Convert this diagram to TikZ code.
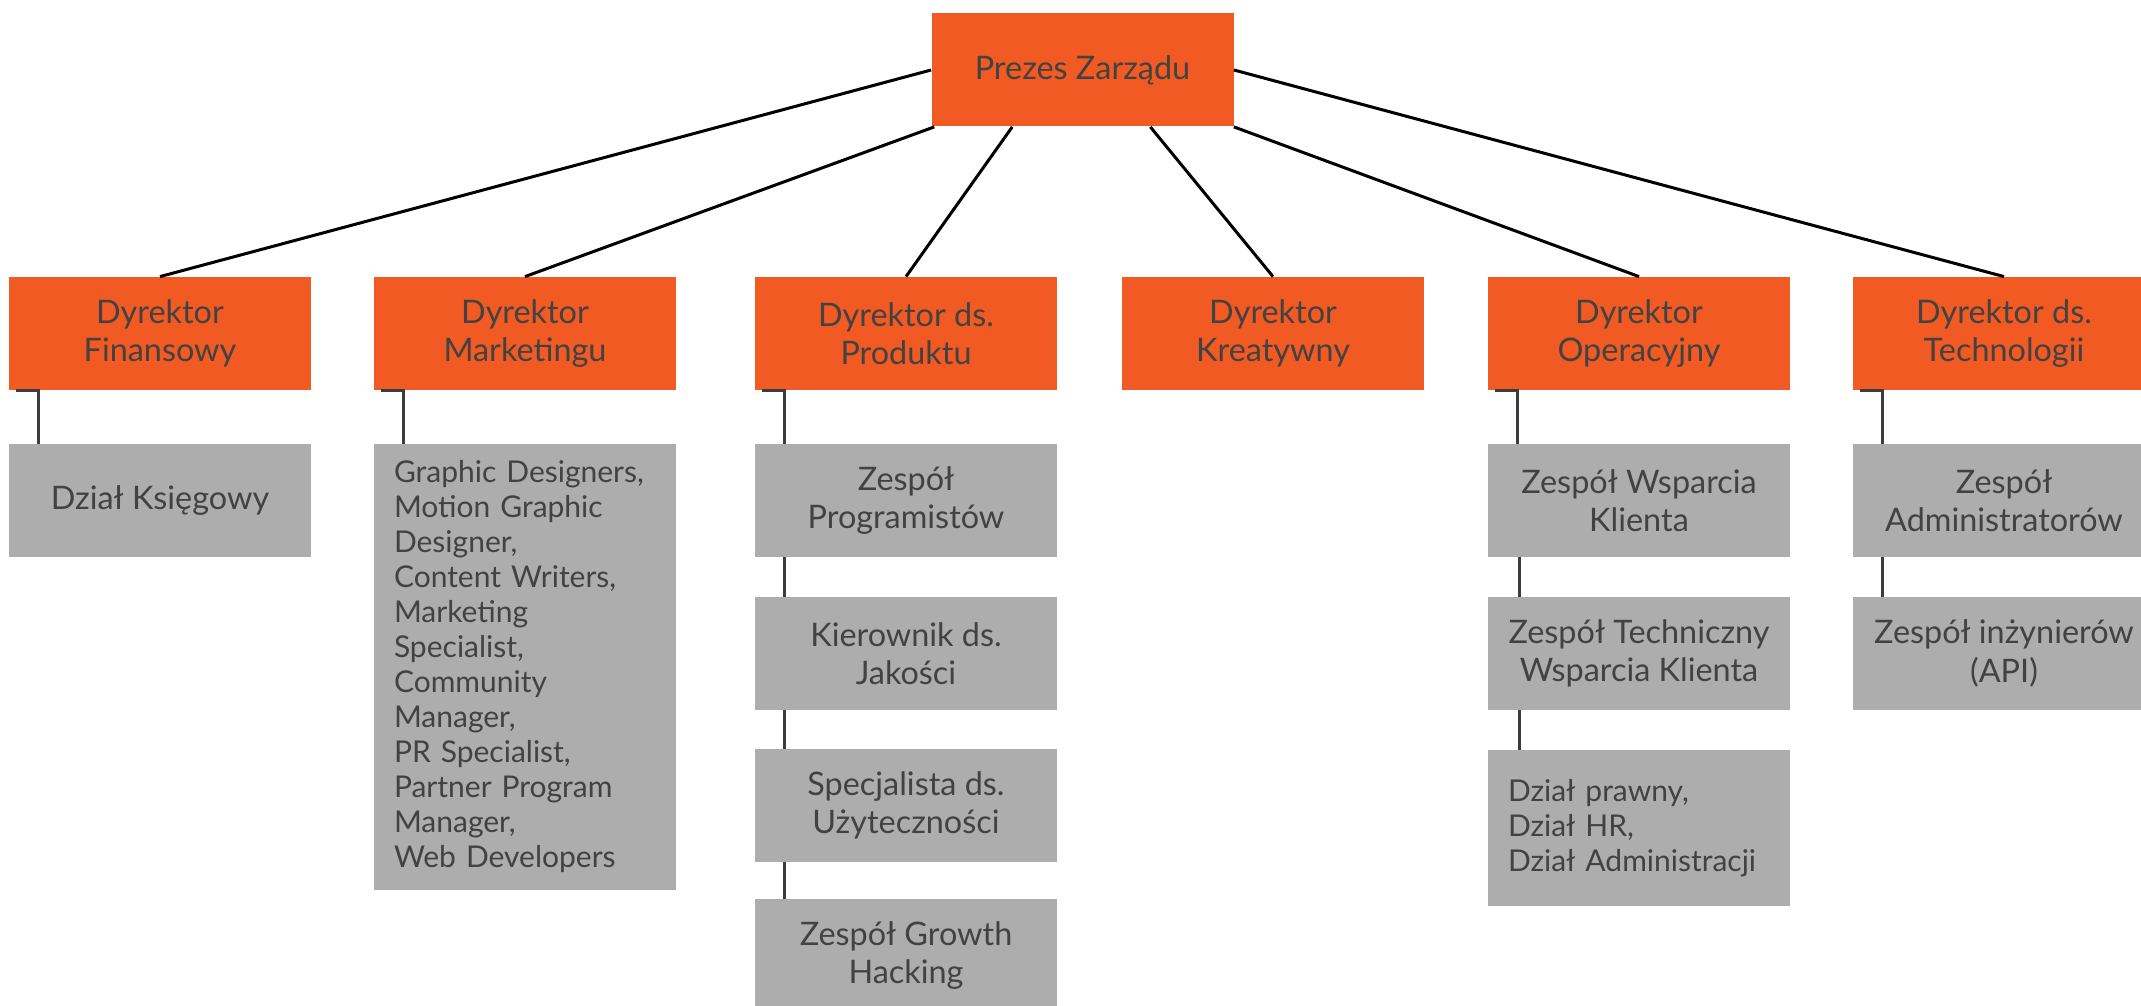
\documentclass[tikz,border=0pt]{standalone}
\usepackage{fontspec}
\setmainfont{Lato}

\definecolor{boxorange}{HTML}{F15A22}
\definecolor{boxgray}{HTML}{ADADAD}
\definecolor{boxtext}{HTML}{424242}
\definecolor{branchgray}{HTML}{3C3C3C}

\tikzset{
  head/.style={fill=boxorange, text=boxtext, minimum width=151pt, minimum height=56.5pt,
    inner sep=0pt, align=center, font=\fontsize{16.2}{19.3}\selectfont},
  unit/.style={head, fill=boxgray},
  unitlist/.style={unit, align=left, text width=131pt, font=\fontsize{15}{17.5}\selectfont},
  link/.style={line width=1.5pt, black},
  branch/.style={line width=1.5pt, branchgray},
}

\begin{document}
\begin{tikzpicture}[x=0.5pt, y=-0.5pt]

\useasboundingbox (0,0) rectangle (2141,1006);

% Board
\node[head] (prezes) at (1082.5,70) {Prezes Zarządu};

% Directors
\node[head] (fin)  at (160,333.5)  {Dyrektor\\Finansowy};
\node[head] (mkt)  at (525,333.5)  {Dyrektor\\Marketingu};
\node[head] (prod) at (906,333.5)  {Dyrektor ds.\\Produktu};
\node[head] (kre)  at (1273,333.5) {Dyrektor\\Kreatywny};
\node[head] (ope)  at (1639,333.5) {Dyrektor\\Operacyjny};
\node[head] (tech) at (2004,333.5) {Dyrektor ds.\\Technologii};

% Teams
\node[unit] (finA) at (160,500.5) {Dział Księgowy};

\node[unitlist, minimum height=223pt] (mktA) at (525,667) {Graphic Designers,\\Motion Graphic\\Designer,\\Content Writers,\\Marketing\\Specialist,\\Community\\Manager,\\PR Specialist,\\Partner Program\\Manager,\\Web Developers};

\node[unit] (prodA) at (906,500.5) {Zespół\\Programistów};
\node[unit] (prodB) at (906,653.5) {Kierownik ds.\\Jakości};
\node[unit] (prodC) at (906,805.5) {Specjalista ds.\\Użyteczności};
\node[unit] (prodD) at (906,955.5) {Zespół Growth\\Hacking};

\node[unit] (opeA) at (1639,500.5) {Zespół Wsparcia\\Klienta};
\node[unit] (opeB) at (1639,653.5) {Zespół Techniczny\\Wsparcia Klienta};
\node[unitlist, minimum height=78pt] (opeC) at (1639,828) {Dział prawny,\\Dział HR,\\Dział Administracji};

\node[unit] (techA) at (2004,500.5) {Zespół\\Administratorów};
\node[unit] (techB) at (2004,653.5) {Zespół inżynierów\\(API)};

% Lines from the board to the directors
\draw[link] (prezes.west)       -- (fin.north);
\draw[link] (prezes.201)        -- (mkt.north);
\draw[link] (prezes.219)        -- (prod.north);
\draw[link] (prezes.320)        -- (kre.north);
\draw[link] (prezes.south east) -- (ope.north);
\draw[link] (prezes.east)       -- (tech.north);

% Lines down to the teams
\draw[branch] ([xshift=3.5pt]fin.south west)  -| ([xshift=15pt]finA.north west);
\draw[branch] ([xshift=3.5pt]mkt.south west)  -| ([xshift=15pt]mktA.north west);
\draw[branch] ([xshift=3.5pt]prod.south west) -| ([xshift=15pt]prodA.north west);
\draw[branch] ([xshift=3.5pt]ope.south west)  -| ([xshift=15pt]opeA.north west);
\draw[branch] ([xshift=3.5pt]tech.south west) -| ([xshift=15pt]techA.north west);

\draw[branch] ([xshift=15pt]prodA.south west) -- ([xshift=15pt]prodB.north west);
\draw[branch] ([xshift=15pt]prodB.south west) -- ([xshift=15pt]prodC.north west);
\draw[branch] ([xshift=15pt]prodC.south west) -- ([xshift=15pt]prodD.north west);

\draw[branch] ([xshift=16pt]opeA.south west) -- ([xshift=16pt]opeB.north west);
\draw[branch] ([xshift=16pt]opeB.south west) -- ([xshift=16pt]opeC.north west);

\draw[branch] ([xshift=15pt]techA.south west) -- ([xshift=15pt]techB.north west);

\end{tikzpicture}
\end{document}
